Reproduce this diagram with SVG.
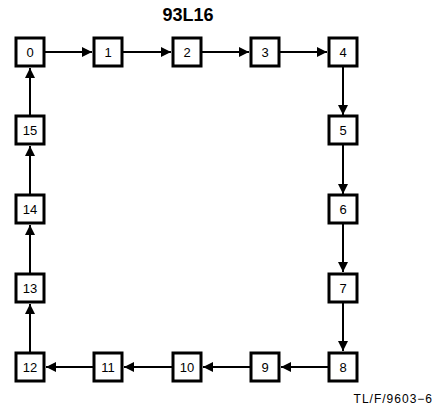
<svg xmlns="http://www.w3.org/2000/svg" width="435" height="406" viewBox="0 0 435 406">
<style>
.n rect{fill:#fff;stroke:#000;stroke-width:3}
.n text{font-family:"Liberation Sans",Arial,sans-serif;font-size:13px;text-anchor:middle;fill:#000}
.c line{stroke:#000;stroke-width:2}
</style>
<defs>
<marker id="a" viewBox="0 0 10 10" refX="10" refY="5" markerWidth="10" markerHeight="10" markerUnits="userSpaceOnUse" orient="auto">
<path d="M0,0L10,5L0,10z" fill="#000"/>
</marker>
</defs>
<rect width="435" height="406" fill="#fff"/>
<text x="188" y="21" font-family="Liberation Sans,Arial,sans-serif" font-size="18" font-weight="bold" text-anchor="middle">93L16</text>
<g class="c">
<line x1="45" y1="52" x2="92" y2="52" marker-end="url(#a)"/>
<line x1="123" y1="52" x2="171" y2="52" marker-end="url(#a)"/>
<line x1="202" y1="52" x2="249" y2="52" marker-end="url(#a)"/>
<line x1="280" y1="52" x2="327" y2="52" marker-end="url(#a)"/>
<line x1="343" y1="67" x2="343" y2="115" marker-end="url(#a)"/>
<line x1="343" y1="145" x2="343" y2="194" marker-end="url(#a)"/>
<line x1="343" y1="224" x2="343" y2="272" marker-end="url(#a)"/>
<line x1="343" y1="303" x2="343" y2="351" marker-end="url(#a)"/>
<line x1="328" y1="367" x2="281" y2="367" marker-end="url(#a)"/>
<line x1="250" y1="367" x2="203" y2="367" marker-end="url(#a)"/>
<line x1="172" y1="367" x2="124" y2="367" marker-end="url(#a)"/>
<line x1="93" y1="367" x2="46" y2="367" marker-end="url(#a)"/>
<line x1="30" y1="352" x2="30" y2="304" marker-end="url(#a)"/>
<line x1="30" y1="273" x2="30" y2="225" marker-end="url(#a)"/>
<line x1="30" y1="194" x2="30" y2="146" marker-end="url(#a)"/>
<line x1="30" y1="115" x2="30" y2="68" marker-end="url(#a)"/>
</g>
<g id="n0" class="n"><rect x="16" y="38" width="28" height="28"/><text x="30" y="57">0</text></g>
<g id="n1" class="n"><rect x="94" y="38" width="28" height="28"/><text x="108" y="57">1</text></g>
<g id="n2" class="n"><rect x="173" y="38" width="28" height="28"/><text x="187" y="57">2</text></g>
<g id="n3" class="n"><rect x="251" y="38" width="28" height="28"/><text x="265" y="57">3</text></g>
<g id="n4" class="n"><rect x="329" y="38" width="28" height="28"/><text x="343" y="57">4</text></g>
<g id="n5" class="n"><rect x="329" y="116" width="28" height="28"/><text x="343" y="135">5</text></g>
<g id="n6" class="n"><rect x="329" y="195" width="28" height="28"/><text x="343" y="214">6</text></g>
<g id="n7" class="n"><rect x="329" y="274" width="28" height="28"/><text x="343" y="293">7</text></g>
<g id="n8" class="n"><rect x="329" y="353" width="28" height="28"/><text x="343" y="372">8</text></g>
<g id="n9" class="n"><rect x="251" y="353" width="28" height="28"/><text x="265" y="372">9</text></g>
<g id="n10" class="n"><rect x="173" y="353" width="28" height="28"/><text x="187" y="372">10</text></g>
<g id="n11" class="n"><rect x="94" y="353" width="28" height="28"/><text x="108" y="372">11</text></g>
<g id="n12" class="n"><rect x="16" y="353" width="28" height="28"/><text x="30" y="372">12</text></g>
<g id="n13" class="n"><rect x="16" y="274" width="28" height="28"/><text x="30" y="293">13</text></g>
<g id="n14" class="n"><rect x="16" y="195" width="28" height="28"/><text x="30" y="214">14</text></g>
<g id="n15" class="n"><rect x="16" y="116" width="28" height="28"/><text x="30" y="135">15</text></g>
<text x="433" y="403" font-family="Liberation Sans,Arial,sans-serif" font-size="12" letter-spacing="1" text-anchor="end">TL/F/9603−6</text>
</svg>
